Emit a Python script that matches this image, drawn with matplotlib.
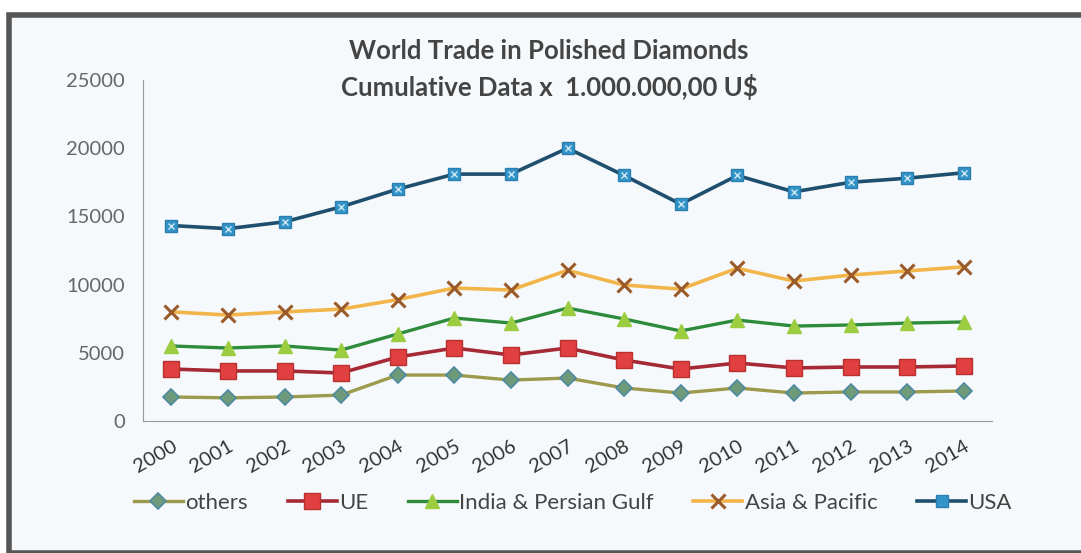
import numpy as np
import matplotlib
matplotlib.use('Agg')
import matplotlib.pyplot as plt
from matplotlib.patches import Rectangle


years = [str(y) for y in range(2000, 2015)]

others = [1760, 1700, 1760, 1900, 3370, 3370, 3000, 3150, 2420, 2050, 2420, 2050, 2130, 2130, 2200]
ue = [3810, 3670, 3670, 3520, 4690, 5350, 4840, 5350, 4470, 3810, 4250, 3890, 3960, 3960, 4030]
india_gulf = [5500, 5350, 5500, 5200, 6380, 7550, 7180, 8280, 7480, 6600, 7400, 6960, 7040, 7180, 7260]
asia_pacific = [8000, 7770, 8000, 8200, 8900, 9750, 9600, 11050, 9970, 9670, 11200, 10260, 10700, 11000, 11300]
usa = [14330, 14100, 14600, 15700, 17000, 18100, 18100, 20000, 18000, 15900, 18000, 16800, 17500, 17800, 18200]

yticks = [0, 5000, 10000, 15000, 20000, 25000]
ytick_labels = ['0', '5000', '10000', '15000', '20000', '25000']

plt.rcParams['font.family'] = ['Lato', 'DejaVu Sans']

fig = plt.figure(figsize=(10.81, 5.53), dpi=100)
fig.patch.set_facecolor('white')

# chart frame with dark border
frame = Rectangle((9 / 1081, 0), 1.2, 1 - 15 / 553, transform=fig.transFigure,
                  facecolor='#f6f9fb', edgecolor='#555555', linewidth=4, zorder=-5)
fig.patches.append(frame)

ax = fig.add_axes([143 / 1081, 1 - 421 / 553, 849 / 1081, 341 / 553], zorder=2)
ax.set_facecolor('none')

x = np.arange(len(years))

ax.plot(x, others, color='#9c9a4c', lw=2.4, marker='D', ms=8,
        mfc='#6f9a7a', mec='#4d8aa0', mew=1.2, label='others', zorder=3)
ax.plot(x, ue, color='#a52a35', lw=2.6, marker='s', ms=11,
        mfc='#e0403f', mec='#b83030', mew=1, label='UE', zorder=3)
ax.plot(x, india_gulf, color='#2e8b3c', lw=2.4, marker='^', ms=10,
        mfc='#9ccc40', mec='#9ccc40', label='India & Persian Gulf', zorder=3)
ax.plot(x, asia_pacific, color='#f2b54a', lw=2.6, marker='x', ms=10,
        mec='#9a5a2a', mew=2.2, label='Asia & Pacific', zorder=3)
ax.plot(x, usa, color='#1f4f6e', lw=2.6, marker='s', ms=8,
        mfc='#3294c8', mec='#2a7fb0', label='USA', zorder=4)
ax.plot(x, usa, ls='none', marker='x', ms=5, mec='#cde6f2', mew=1, zorder=5)

ax.set_xlim(-0.5, len(years) - 0.5)
ax.set_ylim(0, 25000)
ax.set_yticks(yticks)
ax.set_yticklabels(ytick_labels, color='#666666', fontsize=14.5)
ax.set_xticks(x)
ax.set_xticklabels(years, rotation=30, ha='right', rotation_mode='anchor',
                   color='#333333', fontsize=14.5)
ax.tick_params(axis='x', length=0, pad=12)
ax.tick_params(axis='y', length=0, pad=13)

for s in ['top', 'right']:
    ax.spines[s].set_visible(False)
ax.spines['left'].set_color('#9a9a9a')
ax.spines['bottom'].set_color('#9a9a9a')

fig.text(0.508, 1 - 51 / 553, 'World Trade in Polished Diamonds', ha='center', va='center',
         fontsize=18.5, fontweight='bold', color='#444444')
fig.text(0.508, 1 - 87 / 553, 'Cumulative Data x  1.000.000,00 U$', ha='center', va='center',
         fontsize=18.5, fontweight='bold', color='#444444')

fig.legend(loc='center', bbox_to_anchor=(0.53, 1 - 503 / 553), ncol=5, frameon=False,
           fontsize=16, handlelength=2.2, handletextpad=0.1, columnspacing=1.8,
           labelcolor='#444444')

fig.savefig('out.png', dpi=100)
